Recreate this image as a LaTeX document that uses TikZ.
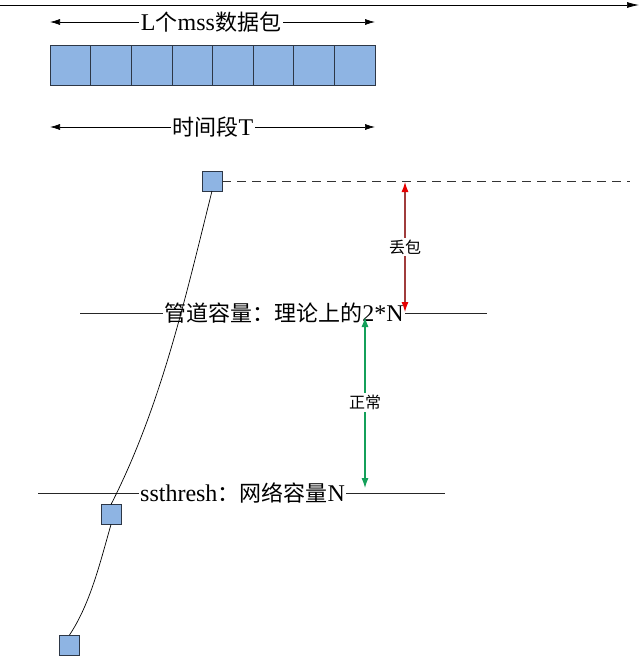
\documentclass[tikz,border=0pt]{standalone}
\usepackage{fontspec}
\setmainfont{Liberation Serif}
\newfontfamily\cjk{Noto Sans CJK SC}
\newcommand\zh[1]{{\cjk\fontsize{22}{24}\selectfont #1}}
\usetikzlibrary{arrows.meta}
\definecolor{boxblue}{RGB}{142,180,227}
\definecolor{boxedge}{RGB}{45,55,70}
\definecolor{lossline}{RGB}{160,60,60}
\definecolor{lossred}{RGB}{230,0,0}
\definecolor{okgreen}{RGB}{20,160,90}
\begin{document}
\begin{tikzpicture}[x=1pt,y=-1pt,
  pkt/.style={draw=boxedge,fill=boxblue,minimum width=40.625pt,minimum height=40pt,inner sep=0pt,outer sep=0pt,line width=0.7pt},
  win/.style={draw=boxedge,fill=boxblue,minimum size=20pt,inner sep=0pt,outer sep=0pt,line width=0.7pt},
  lbl/.style={fill=white,inner sep=1.5pt,font=\fontsize{24}{26}\selectfont},
  small/.style={fill=white,inner sep=2pt,font=\cjk\fontsize{16}{18}\selectfont},
  dim/.style={{Latex[length=10pt,width=6pt]}-{Latex[length=10pt,width=6pt]},line width=0.7pt},
  level/.style={line width=0.8pt,black!85},
  curve/.style={line width=0.7pt,black},
  gap/.style={line width=1.1pt,{Latex[length=10pt,width=7pt]}-{Latex[length=10pt,width=7pt]}}
]
\useasboundingbox (0,0) rectangle (640,656);
% time axis
\coordinate (axs) at (0,5);
\coordinate (axe) at (639,5);
\draw[-{Latex[length=12pt,width=6pt]},line width=0.7pt] (axs) -- (axe);
% L packets
\coordinate (la) at (50,22);
\coordinate (lb) at (375,22);
\draw[dim] (la) -- (lb);
\node[lbl] (ltext) at (211,22) {L\zh{个}mss\zh{数据包}};
\foreach \i in {0,...,7} \node[pkt] (p\i) at ({50+40.625*(\i+0.5)},65) {};
% time period
\coordinate (ta) at (50,127);
\coordinate (tb) at (375,127);
\draw[dim] (ta) -- (tb);
\node[lbl] (ttext) at (213,127) {\zh{时间段}T};
% windows
\node[win] (s1) at (212,181) {};
\node[win] (s2) at (111,514.5) {};
\node[win] (s3) at (69.5,645) {};
% dashed max line
\coordinate (dend) at (630,181);
\draw[dash pattern=on 9pt off 6pt,line width=0.7pt,black!80] (s1.east) -- (dend);
% pipe capacity
\coordinate (pa) at (80,313);
\coordinate (pb) at (487,313);
\draw[level] (pa) -- (pb);
\node[lbl] (ptext) at (284,313) {\zh{管道容量：理论上的}2*N};
% ssthresh
\coordinate (sa) at (38,493);
\coordinate (sb) at (445,493);
\draw[level] (sa) -- (sb);
\node[lbl] (stext) at (242.5,493) {ssthresh\zh{：网络容量}N};
% curves
\draw[curve] (s3.north) .. controls (90.5,603.5) and (100.5,561) .. (s2.south);
\draw[curve] (s2.north) .. controls (161,406.5) and (185.4,297.7) .. (s1.south);
% loss arrow
\coordinate (ra) at (405,182);
\coordinate (rb) at (405,312);
\draw[gap,lossline,{Latex[length=10pt,width=7pt,color=lossred]}-{Latex[length=10pt,width=7pt,color=lossred]}] (ra) -- node[small,text=black] (rl) {丢包} (rb);
% normal arrow
\coordinate (ga) at (365,317);
\coordinate (gb) at (365,488);
\draw[gap,okgreen] (ga) -- node[small,text=black] (gl) {正常} (gb);
\end{tikzpicture}
\end{document}
